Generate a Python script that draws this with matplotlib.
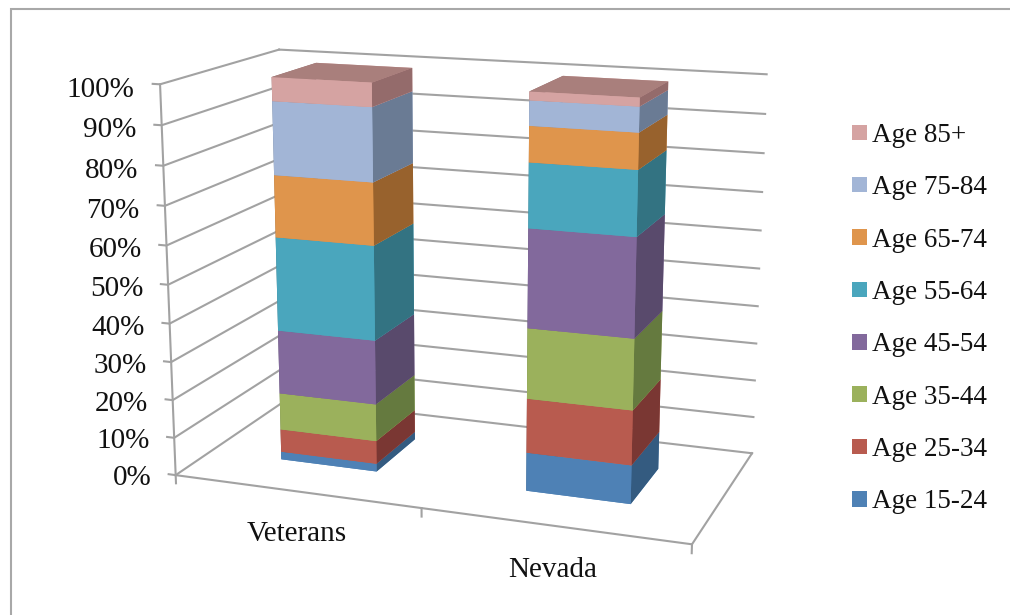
import numpy as np
import matplotlib
matplotlib.use('Agg')
import matplotlib.pyplot as plt
from matplotlib.patches import Patch, Rectangle
from mpl_toolkits.mplot3d import proj3d

plt.rcParams['font.family'] = ['Liberation Serif', 'DejaVu Serif']

categories = ['Veterans', 'Nevada']
age_groups = ['Age 15-24', 'Age 25-34', 'Age 35-44', 'Age 45-54',
              'Age 55-64', 'Age 65-74', 'Age 75-84', 'Age 85+']
veterans = [2.1, 6.1, 9.8, 16.8, 24.5, 16.0, 18.7, 6.0]
nevada = [10.0, 14.0, 18.0, 24.9, 16.1, 8.8, 6.1, 2.1]
percent_ticks = [0, 10, 20, 30, 40, 50, 60, 70, 80, 90, 100]

front_colors = ['#4E81B5', '#B85B4F', '#9BB15C', '#82699C',
                '#4AA6BD', '#DF954C', '#A2B5D6', '#D5A3A2']
side_colors = ['#345B80', '#7A3733', '#657A3F', '#594A6C',
               '#337382', '#98622D', '#6A7B94', '#946B6B']
top_color = '#A97F7C'
line_color = '#A2A2A2'
text_color = '#111111'

W, H = 1010, 615
fig = plt.figure(figsize=(W / 100, H / 100), dpi=100)
fig.add_artist(Rectangle((10.5 / W, -0.1), 1.2, 1.1 - 9 / H, fill=False,
                         edgecolor='#A8A8A8', linewidth=1.5,
                         transform=fig.transFigure))

# the 3d axes is square, 694 px on a side
ax = fig.add_axes([112.1 / W, -17.9 / H, 694 / W, 694 / H], projection='3d')
ax.set_xlim(0, 2, view_margin=0)
ax.set_ylim(0, 1, view_margin=0)
ax.set_zlim(0, 100, view_margin=0)
ax.view_init(elev=14.36, azim=-69.97, roll=0)
ax.set_proj_type('persp', focal_length=0.514)
ax.set_box_aspect((1.342, 0.665, 1))
ax.set_axis_off()
ax.patch.set_visible(False)
ax.computed_zorder = False
proj = ax.get_proj()


def line(xs, ys, zs):
    ax.plot(xs, ys, zs, color=line_color, linewidth=1.5, zorder=1)


def label(x, y, z, s, ha):
    # flat text placed at the projected position of a 3d point
    u, v, _ = proj3d.proj_transform(x, y, z, proj)
    ax.text2D(u, v, s, transform=ax.transData, ha=ha, va='center', fontsize=21,
              color=text_color, zorder=5)


# walls
for z in percent_ticks:
    line([-0.03, 0, 0], [0, 0, 1], [z, z, z])
    line([0, 2], [1, 1], [z, z])
    label(-0.105, 0, z - 1.7, f'{z}%', 'right')

# floor and value axis
line([0, 0], [0, 0], [0, 100])
line([0, 2, 2], [0, 0, 1], [0, 0, 0])
for x in [0, 1, 2]:
    line([x, x], [0, 0], [0, -2.2])

# stacked columns, bottom segment first so upper ones cover it
bar_width = 0.4
bar_depth = 0.4
for i, values in enumerate([veterans, nevada]):
    bottoms = np.cumsum([0] + values[:-1])
    for j, value in enumerate(values):
        # bar3d face order: bottom, top, front, back, left, right
        faces = [front_colors[j], top_color, front_colors[j],
                 front_colors[j], side_colors[j], side_colors[j]]
        ax.bar3d(i + 0.3, 0.3, bottoms[j], bar_width, bar_depth, value,
                 color=faces, shade=False, linewidth=0, zorder=2 + i + j * 0.01)
    label(i + 0.5, 0, -11.3, categories[i], 'center')

handles = [Patch(facecolor=c, edgecolor='none') for c in front_colors[::-1]]
fig.legend(handles, age_groups[::-1], loc='upper left',
           bbox_to_anchor=(852 / W, 1 - 123 / H), frameon=False, fontsize=19.5,
           handlelength=0.555, handleheight=0.5, handletextpad=0.185,
           labelspacing=1.01, borderpad=0, borderaxespad=0,
           labelcolor=text_color)

fig.savefig('out.png', dpi=100)
